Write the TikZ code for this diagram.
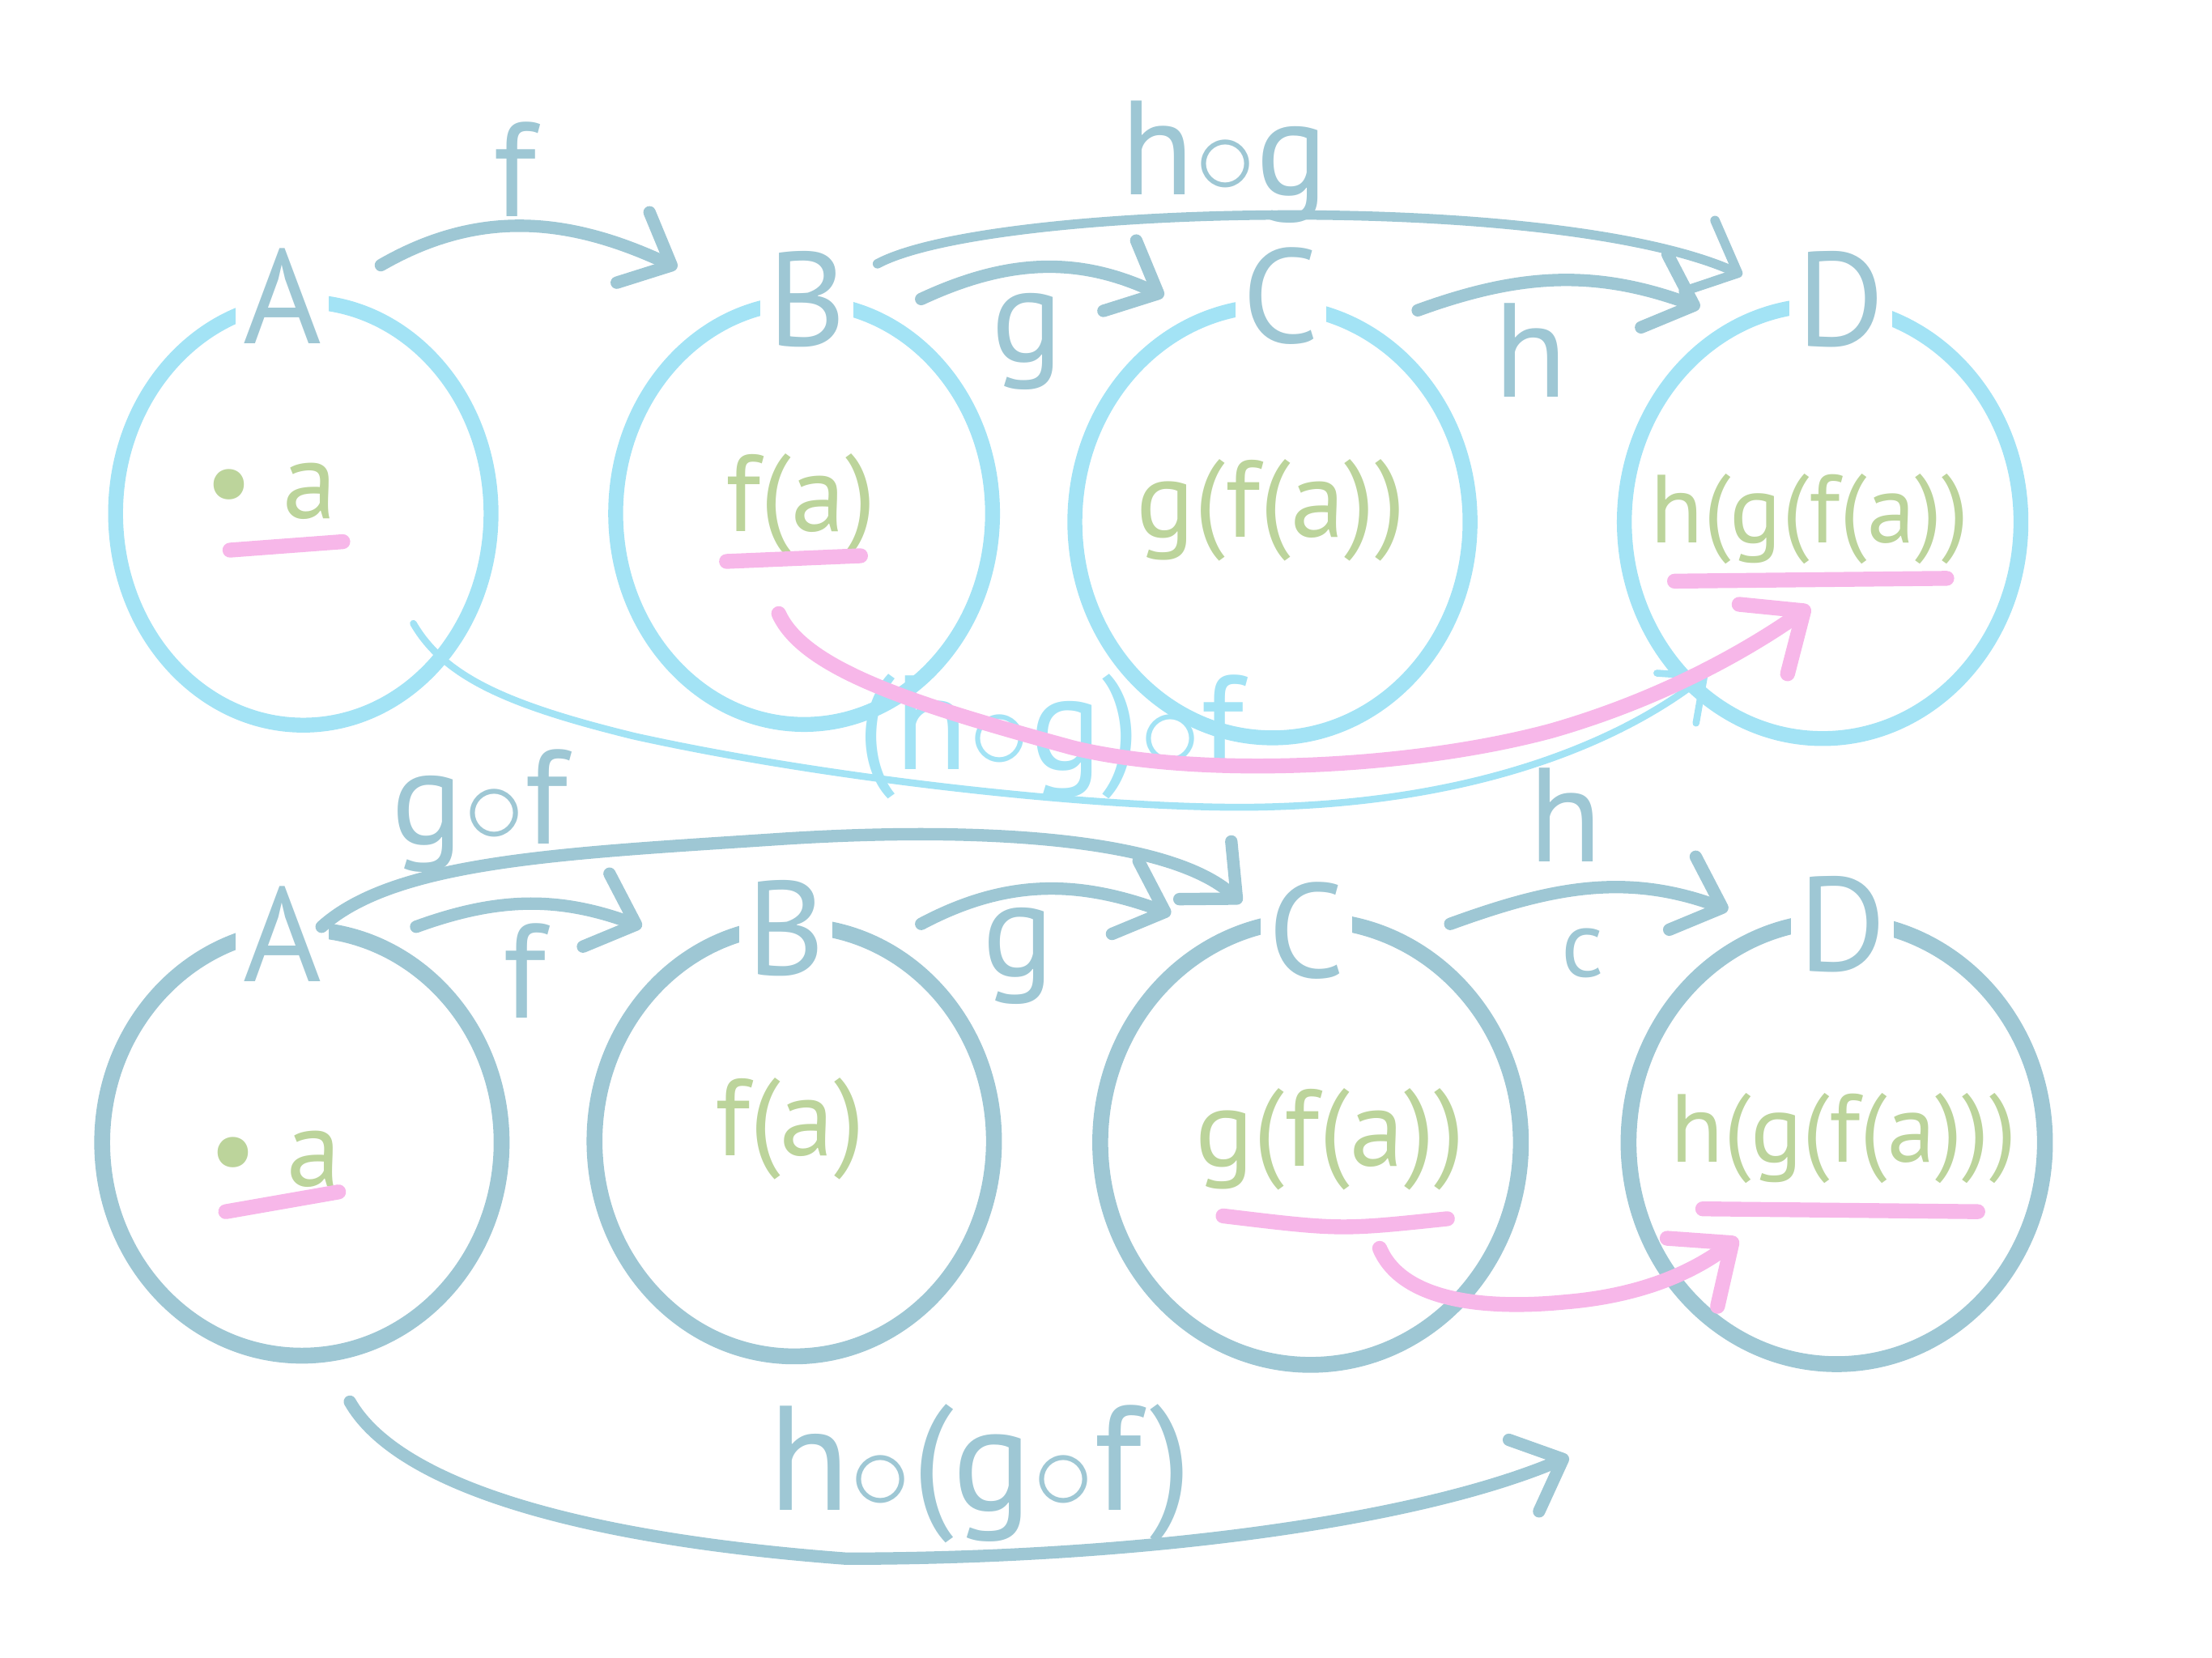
\documentclass[tikz,border=0pt]{standalone}
\usepackage{fontspec}
\setmainfont{PT Sans}
\usetikzlibrary{shapes.geometric,arrows.meta}

\definecolor{skyring}{HTML}{A3E3F5}
\definecolor{tealring}{HTML}{9EC7D4}
\definecolor{leaf}{HTML}{BCD49B}
\definecolor{marker}{HTML}{F7B7E9}

\tikzset{
  ring/.style={ellipse, draw, inner sep=0pt},
  topring/.style={ring, draw=skyring, line width=3pt},
  botring/.style={ring, draw=tealring, line width=3.2pt},
  setname/.style={text=tealring, fill=white, inner sep=1.5pt, font=\fontsize{27}{30}\selectfont},
  elem/.style={text=leaf, font=\fontsize{22}{26}\selectfont},
  longelem/.style={elem, font=\fontsize{19.5}{24}\selectfont},
  fnlabel/.style={text=tealring, font=\fontsize{27}{30}\selectfont},
  fnarrow/.style={tealring, line width=2.5pt, line cap=round, -{Straight Barb[length=3mm,width=5.5mm,round]}},
  longarrow/.style={skyring, line width=1.4pt, line cap=round, -{Straight Barb[length=2.5mm,width=4.5mm,round]}},
  pinkline/.style={marker, line width=3pt, line cap=round},
  pinkarrow/.style={pinkline, -{Straight Barb[length=3.5mm,width=6mm,round]}},
}

\begin{document}
\begin{tikzpicture}[x=0.01cm, y=-0.01cm]
\useasboundingbox (0,0) rectangle (1568,1175);

% upper row of sets
\node[topring, minimum width=2.66cm, minimum height=3.00cm] (tA) at (215,364) {};
\node[topring, minimum width=2.67cm, minimum height=2.99cm] (tB) at (570,364) {};
\node[topring, minimum width=2.80cm, minimum height=3.06cm] (tC) at (902,370) {};
\node[topring, minimum width=2.81cm, minimum height=3.07cm] (tD) at (1292,370) {};
% lower row of sets
\node[botring, minimum width=2.83cm, minimum height=3.02cm] (bA) at (214,810) {};
\node[botring, minimum width=2.83cm, minimum height=3.05cm] (bB) at (563,809) {};
\node[botring, minimum width=2.98cm, minimum height=3.15cm] (bC) at (929,810) {};
\node[botring, minimum width=2.95cm, minimum height=3.14cm] (bD) at (1302,810) {};

% set names
\node[setname] (tAn) at (200,210) {A};
\node[setname] (tBn) at (572,212) {B};
\node[setname] (tCn) at (908,210) {C};
\node[setname] (tDn) at (1305,212) {D};
\node[setname] (bAn) at (200,662) {A};
\node[setname] (bBn) at (557,658) {B};
\node[setname] (bCn) at (926,660) {C};
\node[setname] (bDn) at (1306,655) {D};

% elements
\node[elem] (tAe) at (192,348) {• a};
\node[elem] (tBe) at (568,358) {f(a)};
\node[elem] (tCe) at (901,362) {g(f(a))};
\node[longelem] (tDe) at (1283,368) {h(g(f(a))};
\node[elem] (bAe) at (195,822) {• a};
\node[elem] (bBe) at (560,800) {f(a)};
\node[elem] (bCe) at (943,808) {g(f(a))};
\node[longelem] (bDe) at (1307,807) {h(g(f(a)))};

% underlines
\draw[pinkline] ([shift={(-29,42)}]tAe.center) -- ([shift={(51,36)}]tAe.center);
\draw[pinkline] ([shift={(-53,40)}]tBe.center) -- ([shift={(42,36)}]tBe.center);
\draw[pinkline] ([shift={(-96,44)}]tDe.center) -- ([shift={(97,42)}]tDe.center);
\draw[pinkline] ([shift={(-35,37)}]bAe.center) -- ([shift={(45,23)}]bAe.center);
\draw[pinkline] ([shift={(-76,54)}]bCe.center) .. controls (950,872) .. ([shift={(83,56)}]bCe.center);
\draw[pinkline] ([shift={(-100,50)}]bDe.center) -- ([shift={(95,52)}]bDe.center);

% upper maps
\draw[fnarrow] ([shift={(70,-22)}]tAn.center) to[out=30,in=155] ([shift={(-92,-22)}]tBn.center);
\draw[fnarrow] ([shift={(81,0)}]tBn.center) to[out=25,in=155] ([shift={(-83,0)}]tCn.center);
\draw[fnarrow] ([shift={(97,10)}]tCn.center) to[out=20,in=160] ([shift={(-100,6)}]tDn.center);
\draw[fnarrow, line width=1.9pt] ([shift={(50,-25)}]tBn.center) .. controls (700,145) and (1100,135) .. ([shift={(-70,-17)}]tDn.center);
\node[fnlabel] (tf) at (365,120) {f};
\node[fnlabel] (tg) at (728,242) {g};
\node[fnlabel] (th) at (1085,248) {h};
\node[fnlabel] (thg) at (868,115) {h$\circ$g};

% long map of the upper row
\draw[longarrow] ([shift={(101,94)}]tAe.center) .. controls (315,480) and (360,500) .. (450,522)
  .. controls (600,555) and (800,575) .. (900,572)
  .. controls (1050,568) and (1150,525) .. ([shift={(-73,110)}]tDe.center);
\node[fnlabel, text=skyring] (thgf) at (745,522) {(h$\circ$g)$\circ$f};
\draw[pinkarrow] ([shift={(-16,77)}]tBe.center) .. controls (570,475) and (650,500) .. (760,530)
  .. controls (850,552) and (1000,545) .. (1100,518)
  .. controls (1180,495) and (1240,460) .. ([shift={(0,62)}]tDe.center);

% lower maps
\draw[fnarrow] ([shift={(28,-5)}]bAn.center) .. controls (280,610) and (400,605) .. (550,595)
  .. controls (700,585) and (830,595) .. ([shift={(-46,-20)}]bCn.center);
\draw[fnarrow] ([shift={(95,-5)}]bAn.center) to[out=20,in=160] ([shift={(-102,-1)}]bBn.center);
\draw[fnarrow] ([shift={(96,-3)}]bBn.center) to[out=28,in=160] ([shift={(-96,-12)}]bCn.center);
\draw[fnarrow] ([shift={(102,-5)}]bCn.center) to[out=20,in=160] ([shift={(-81,-10)}]bDn.center);
\node[fnlabel] (bgf) at (340,575) {g$\circ$f};
\node[fnlabel] (bf) at (372,688) {f};
\node[fnlabel] (bg) at (722,678) {g};
\node[fnlabel] (bh) at (1110,578) {h};
\node[fnlabel, font=\fontsize{19}{22}\selectfont] (bc) at (1122,676) {c};

% long map of the lower row
\draw[fnarrow] ([shift={(34,27)}]bA.south) .. controls (280,1050) and (400,1090) .. (600,1105)
  .. controls (800,1105) and (1000,1080) .. ([shift={(-190,60)}]bD.south);
\node[fnlabel, font=\fontsize{30}{34}\selectfont] (bhgf) at (695,1045) {h$\circ$(g$\circ$f)};
\draw[pinkarrow] ([shift={(35,77)}]bCe.center) .. controls (995,925) and (1060,928) .. (1110,923)
  .. controls (1170,918) and (1205,898) .. ([shift={(-75,71)}]bDe.center);
\end{tikzpicture}
\end{document}
